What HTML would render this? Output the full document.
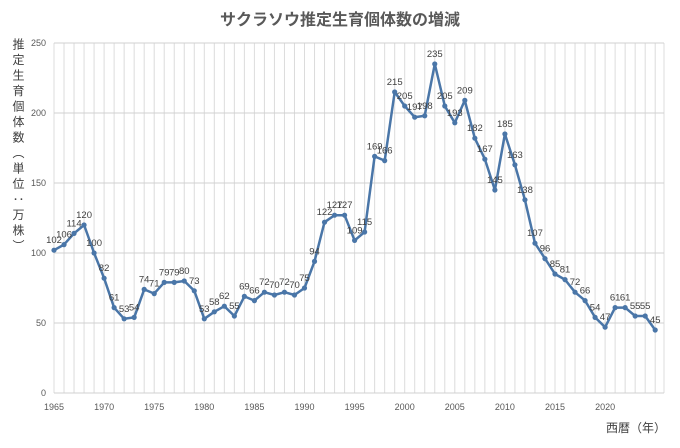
<!DOCTYPE html>
<html><head><meta charset="utf-8"><style>
body{margin:0;background:#fff;width:680px;height:443px;overflow:hidden;font-family:"Liberation Sans","Noto Sans CJK JP",sans-serif}
</style></head><body>
<svg id="s" width="680" height="443" xmlns="http://www.w3.org/2000/svg" font-family="Liberation Sans, Noto Sans CJK JP, sans-serif">
<rect width="680" height="443" fill="#fff"/>
<text x="340" y="25" text-anchor="middle" font-size="16" font-weight="bold" fill="#595959">サクラソウ推定生育個体数の増減</text>
<text x="636" y="432" text-anchor="middle" font-size="12" fill="#404040">西暦（年）</text>
<text x="18" y="38" font-size="12" letter-spacing="3.5" fill="#404040" style="writing-mode:vertical-rl;glyph-orientation-vertical:0">推定生育個体数（単位：万株）</text>
</svg>
<script>
var d=[102,106,114,120,100,82,61,53,54,74,71,79,79,80,73,53,58,62,55,69,66,72,70,72,70,75,94,122,127,127,109,115,169,166,215,205,197,198,235,205,193,209,182,167,145,185,163,138,107,96,85,81,72,66,54,47,61,61,55,55,45];
var s=document.getElementById('s'),h='';
function X(i){return 54+i*10.02}function Y(v){return 393-v*1.4}
for(var i=0;i<=60;i++)h+='<line x1="'+X(i)+'" y1="43" x2="'+X(i)+'" y2="393" stroke="#dcdcdc" stroke-width="1"/>';
h+='<line x1="664" y1="43" x2="664" y2="393" stroke="#dcdcdc"/>';
for(var v=0;v<=250;v+=50){h+='<line x1="54" y1="'+Y(v)+'" x2="664" y2="'+Y(v)+'" stroke="#d0d0d0"/>';
h+='<text x="46" y="'+(Y(v)+3)+'" text-anchor="end" font-size="9" fill="#595959">'+v+'</text>';}
for(var y=1965;y<=2020;y+=5)h+='<text x="'+X(y-1965)+'" y="410" text-anchor="middle" font-size="9" fill="#595959">'+y+'</text>';
var p='';for(i=0;i<d.length;i++)p+=(i?'L':'M')+X(i).toFixed(1)+' '+Y(d[i]).toFixed(1);
h+='<path d="'+p+'" fill="none" stroke="#4a76a8" stroke-width="2.5" stroke-linejoin="round"/>';
for(i=0;i<d.length;i++){h+='<circle cx="'+X(i)+'" cy="'+Y(d[i])+'" r="2.6" fill="#4a76a8"/>';
h+='<text x="'+X(i)+'" y="'+(Y(d[i])-7)+'" text-anchor="middle" font-size="9.5" fill="#404040">'+d[i]+'</text>';}
s.insertAdjacentHTML('beforeend',h);
</script>
</body></html>
